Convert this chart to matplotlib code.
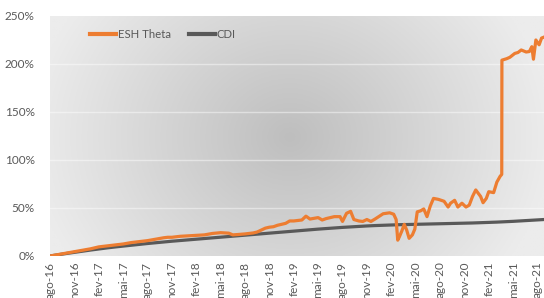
import numpy as np
import matplotlib
matplotlib.use("Agg")
import matplotlib.pyplot as plt

# months since Aug 2016
esh_months = [0, 1, 2, 3, 4, 5, 6, 7, 8, 9, 10, 11, 12, 13, 14, 14.5, 15, 16, 17, 18, 19,
              20, 21, 22, 22.5, 23, 24, 25, 25.5, 26, 26.5, 27, 27.5, 28, 29, 29.5, 30,
              31, 31.5, 32, 33, 33.5, 34, 35, 35.7, 36.0, 36.5, 37, 37.4, 38, 38.5, 39,
              39.5, 40, 41, 41.8, 42.3, 42.6, 42.8, 43.0, 43.3, 43.6, 43.9, 44.2, 44.6,
              44.9, 45.2, 45.6, 46.0, 46.4, 46.8, 47.2, 47.8, 48.5, 49.0, 49.3, 49.8,
              50.2, 50.7, 51.2, 51.6, 52.0, 52.4, 53.0, 53.3, 53.7, 54.0, 54.6, 55.0,
              55.4, 55.6, 55.62, 56.2, 56.6, 57.2, 57.6, 58.0, 58.6, 59.0, 59.3, 59.5,
              59.8, 60.2, 60.5, 60.8]
esh_values = [0, 1.5, 3, 4.5, 6, 7.5, 9.5, 10.5, 11.5, 12.5, 14, 15, 16, 17.5, 19, 19.5,
              19.5, 20.5, 21, 21.5, 22, 23.5, 24.3, 23.8, 22, 22.3, 23, 24, 25, 27, 29,
              30, 30.5, 32, 34, 36.5, 36.5, 37.5, 41.5, 38.5, 40, 37.5, 39, 41, 41, 36,
              44.5, 46.5, 38, 36.5, 36, 38, 36, 38.5, 44, 45, 43.5, 38, 16.5, 20, 26, 33,
              27, 18.4, 22, 28, 46, 47, 49, 41, 52, 60, 59, 57, 51, 55, 58, 51, 55, 51,
              53, 62, 68.8, 62, 55.5, 60, 67, 66, 77, 83, 85, 204, 205.5, 207, 211, 212,
              214.6, 212.5, 213, 218, 205, 225, 220, 227, 228]

cdi_months = list(range(0, 62))
cdi_values = [0, 1.3, 2.6, 3.8, 5.0, 6.2, 7.3, 8.4, 9.4, 10.3, 11.2, 12.1, 13.0, 13.8,
              14.6, 15.4, 16.1, 16.8, 17.5, 18.2, 18.9, 19.6, 20.3, 21.0, 21.7, 22.4,
              23.1, 23.8, 24.5, 25.2, 25.9, 26.6, 27.3, 28.0, 28.6, 29.2, 29.8, 30.3,
              30.8, 31.3, 31.7, 32.0, 32.3, 32.6, 32.8, 33.0, 33.2, 33.4, 33.6, 33.8,
              34.0, 34.2, 34.4, 34.7, 35.0, 35.3, 35.7, 36.1, 36.6, 37.1, 37.6, 38.1]

tick_months = list(range(0, 61, 3))
tick_labels = ["ago-16", "nov-16", "fev-17", "mai-17", "ago-17", "nov-17", "fev-18",
               "mai-18", "ago-18", "nov-18", "fev-19", "mai-19", "ago-19", "nov-19",
               "fev-20", "mai-20", "ago-20", "nov-20", "fev-21", "mai-21", "ago-21"]
y_ticks = [0, 50, 100, 150, 200, 250]

plt.rcParams['font.family'] = ['Lato', 'DejaVu Sans']

fig = plt.figure(figsize=(5.44, 2.98), dpi=100)
ax = fig.add_axes([50/544, 1 - 256/298, 1 - 50/544, 240/298])

# radial gradient background
W, H = 494, 240
xx, yy = np.meshgrid(np.linspace(0, W, 300), np.linspace(0, H, 150))
cx, cy = 240, 119
r = np.sqrt((xx - cx) ** 2 + ((yy - cy) * 1.15) ** 2) / 260
r = np.clip(r, 0, 1)
g = (190 + 46 * r) / 255
img = np.dstack([g, g, g])
ax.imshow(img, extent=[0, 1, 1, 0], transform=ax.transAxes, aspect='auto', zorder=0)

for yv in y_ticks[1:-1]:
    ax.axhline(yv, color='white', alpha=0.45, lw=1.0, zorder=1)

ax.plot(esh_months, esh_values, color='#ED7D31', lw=2.3, label='ESH Theta', zorder=3,
        solid_joinstyle='round')
ax.plot(cdi_months, cdi_values, color='#595959', lw=2.3, label='CDI', zorder=2)

ax.set_xlim(0, 60.8)
ax.set_ylim(0, 250)
ax.set_yticks(y_ticks)
ax.set_yticklabels([f"{v}%" for v in y_ticks])
ax.set_xticks(tick_months)
ax.set_xticklabels(tick_labels, rotation=90)
ax.tick_params(axis='both', length=0, colors='#595959', labelsize=8.5)
ax.tick_params(axis='y', pad=11)
ax.tick_params(axis='x', pad=4)
for s in ax.spines.values():
    s.set_visible(False)

leg = ax.legend(loc='upper left', bbox_to_anchor=(0.06, 0.99), ncol=2, frameon=False,
                fontsize=8.2, handlelength=2.3, handletextpad=0.15, columnspacing=1.6,
                labelcolor='#595959')
for line in leg.get_lines():
    line.set_linewidth(3)

fig.savefig('out.png', dpi=100)
